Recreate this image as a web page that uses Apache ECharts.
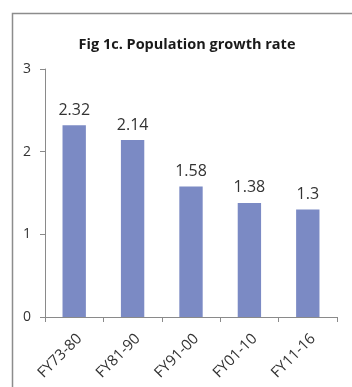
<!DOCTYPE html>
<html>
<head>
<meta charset="utf-8">
<script src="https://cdn.jsdelivr.net/npm/echarts@6/dist/echarts.min.js"></script>
<style>
  html, body { margin: 0; padding: 0; background: #fff; }
  #chart { width: 352px; height: 387px; }
</style>
</head>
<body>
<div id="chart"></div>
<script>
// Population growth rate by period (percent per year)
const categories = ['FY73-80', 'FY81-90', 'FY91-00', 'FY01-10', 'FY11-16'];
const growthRate = [2.32, 2.14, 1.58, 1.38, 1.3];
const yTicks = { min: 0, max: 3, interval: 1 };

const chart = echarts.init(document.getElementById('chart'), null, { renderer: 'canvas' });
const font = 'Open Sans, Liberation Sans, sans-serif';

chart.setOption({
  backgroundColor: '#ffffff',
  animation: false,
  graphic: [{
    type: 'rect',
    left: 10, top: 11,
    shape: { width: 400, height: 420 },
    style: { fill: 'none', stroke: '#8c8c8c', lineWidth: 1.5 },
    silent: true
  }],
  title: {
    text: 'Fig 1c. Population growth rate',
    left: 182, top: 32, textAlign: 'center',
    textStyle: { fontFamily: font, fontWeight: 'bold', fontSize: 14.5, color: '#1a1a1a' }
  },
  grid: { left: 45, right: 15, top: 69, bottom: 70, containLabel: false },
  xAxis: {
    type: 'category',
    data: categories,
    axisLine: { lineStyle: { color: '#8a8a8a', width: 1 } },
    axisTick: { show: true, length: 5, alignWithLabel: false, lineStyle: { color: '#8a8a8a' } },
    axisLabel: {
      rotate: 45, verticalAlign: 'top', fontFamily: font, fontSize: 15,
      color: '#333', margin: 14
    }
  },
  yAxis: {
    type: 'value',
    min: yTicks.min, max: yTicks.max, interval: yTicks.interval,
    splitLine: { show: false },
    axisLine: { show: true, lineStyle: { color: '#8a8a8a', width: 1 } },
    axisTick: { show: true, length: 5, lineStyle: { color: '#8a8a8a' } },
    axisLabel: { fontFamily: font, fontSize: 14, color: '#333', margin: 14 }
  },
  series: [{
    type: 'bar',
    data: growthRate,
    barWidth: '40%',
    itemStyle: { color: '#7b8ac4' },
    label: {
      show: true, position: 'top', distance: 7,
      fontFamily: font, fontSize: 16, color: '#333'
    }
  }]
});
</script>
</body>
</html>
